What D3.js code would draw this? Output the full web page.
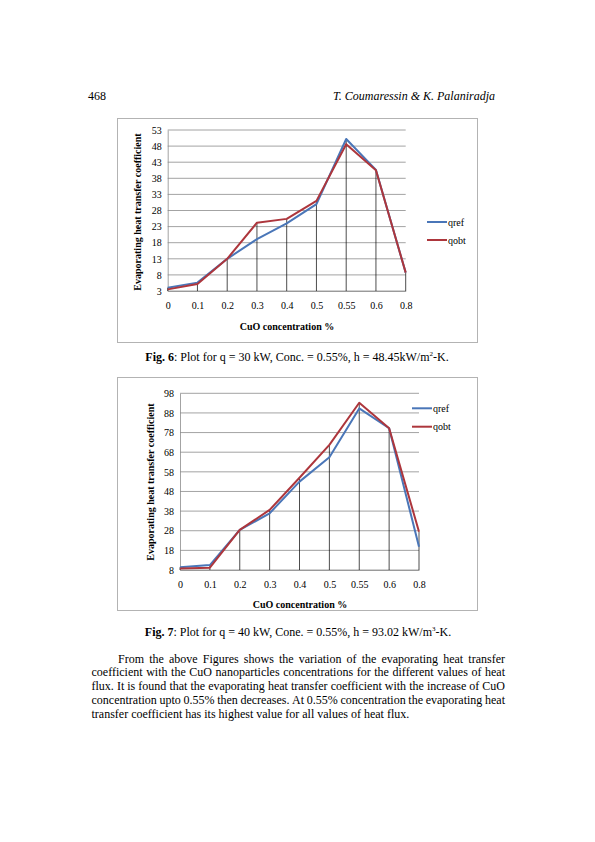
<!DOCTYPE html>
<html><head><meta charset="utf-8">
<script src="https://cdn.jsdelivr.net/npm/d3@7"></script>
<style>html,body{margin:0;padding:0;background:#fff}svg{display:block}</style>
</head><body>
<svg id="page" width="595" height="842"></svg>
<script>
const categories = ["0","0.1","0.2","0.3","0.4","0.5","0.55","0.6","0.8"];
const fig6Qref = [4.0, 5.6, 13.0, 19.1, 24.0, 30.0, 50.2, 40.6, 8.7];
const fig6Qobt = [3.5, 5.2, 13.0, 24.2, 25.4, 31.0, 48.6, 40.5, 8.7];
const fig6Ticks = [3,8,13,18,23,28,33,38,43,48,53];
const fig7Qref = [9.4, 10.5, 28.4, 36.9, 53.0, 65.4, 90.3, 80.2, 19.9];
const fig7Qobt = [8.8, 9.2, 28.4, 38.6, 55.0, 71.7, 93.2, 80.2, 27.5];
const fig7Ticks = [8,18,28,38,48,58,68,78,88,98];
const seriesNames = ["qref","qobt"];
const yTitle = "Evaporating heat transfer coefficient";
const xTitle = "CuO concentration %";

const svg = d3.select("#page");
const SERIF = "'Liberation Serif','Times New Roman',serif";
const COLORS = ["#4A76B8", "#AD363C"];
const CFS = 10;

// header
svg.append("text").attr("x",88).attr("y",100).attr("font-family",SERIF).attr("font-size",12).text("468");
svg.append("text").attr("x",495).attr("y",100).attr("text-anchor","end").attr("font-family",SERIF)
  .attr("font-size",12).attr("font-style","italic").text("T. Coumaressin & K. Palaniradja");

function chart(o){
  const g = svg.append("g");
  g.append("rect").attr("x",o.frame[0]+0.5).attr("y",o.frame[1]+0.5)
   .attr("width",o.frame[2]-o.frame[0]).attr("height",o.frame[3]-o.frame[1])
   .attr("fill","#fff").attr("stroke","#b3b3b3").attr("stroke-width",1);
  const x = d3.scalePoint().domain(categories).range([o.x0,o.x1]).padding(0);
  const y = d3.scaleLinear().domain([o.ticks[0], o.ticks[o.ticks.length-1]]).range([o.y0,o.y1]);
  // gridlines
  g.append("g").selectAll("line").data(o.ticks).join("line")
   .attr("x1",o.x0).attr("x2",o.x1).attr("y1",d=>y(d)).attr("y2",d=>y(d))
   .attr("stroke","#8c8c8c").attr("stroke-width",0.8);
  // axes via d3
  const ya = d3.axisLeft(y).tickValues(o.ticks).tickSize(0).tickPadding(6);
  const yg = g.append("g").attr("transform",`translate(${o.x0},0)`).call(ya);
  yg.select(".domain").attr("stroke","#8c8c8c").attr("stroke-width",0.8);
  yg.selectAll("text").attr("font-family",SERIF).attr("font-size",CFS).attr("fill","#000");
  const xa = d3.axisBottom(x).tickSize(0).tickPadding(11);
  const xg = g.append("g").attr("transform",`translate(0,${o.y0})`).call(xa);
  xg.select(".domain").attr("stroke","#8c8c8c").attr("stroke-width",0.8);
  xg.selectAll("text").attr("font-family",SERIF).attr("font-size",CFS).attr("fill","#000");
  // drop lines
  g.append("g").selectAll("line").data(categories).join("line")
   .attr("x1",d=>x(d)).attr("x2",d=>x(d))
   .attr("y1",(d,i)=>y(Math.max(o.a[i],o.b[i]))).attr("y2",o.y0)
   .attr("stroke","#000").attr("stroke-width",0.7);
  // series
  const line = d3.line().x((d,i)=>x(categories[i])).y(d=>y(d));
  [o.a,o.b].forEach((s,k)=>{
    g.append("path").datum(s).attr("d",line).attr("fill","none")
     .attr("stroke",COLORS[k]).attr("stroke-width",2).attr("stroke-linejoin","round");
  });
  // legend
  seriesNames.forEach((n,k)=>{
    const ly = o.leg[1] + k*o.leg[2];
    g.append("line").attr("x1",o.leg[0]).attr("x2",o.leg[0]+20).attr("y1",ly).attr("y2",ly)
     .attr("stroke",COLORS[k]).attr("stroke-width",2);
    g.append("text").attr("x",o.leg[0]+21).attr("y",ly+3.5).attr("font-family",SERIF)
     .attr("font-size",CFS).text(n);
  });
  // titles
  g.append("text").attr("transform",`translate(${o.yt[0]},${o.yt[1]}) rotate(-90)`)
   .attr("text-anchor","middle").attr("dominant-baseline","central").attr("font-family",SERIF)
   .attr("font-weight","bold").attr("font-size",CFS).text(yTitle);
  g.append("text").attr("x",o.xt[0]).attr("y",o.xt[1]).attr("text-anchor","middle")
   .attr("font-family",SERIF).attr("font-weight","bold").attr("font-size",CFS).text(xTitle);
}

chart({frame:[117,118,477,342], x0:167.7, x1:405.7, y0:291, y1:130, ticks:fig6Ticks,
  a:fig6Qref, b:fig6Qobt, leg:[427,222,18], yt:[137,212], xt:[287,329.5]});
chart({frame:[117,377,477,610], x0:180, x1:419, y0:570, y1:393.3, ticks:fig7Ticks,
  a:fig7Qref, b:fig7Qobt, leg:[412,408.3,18.4], yt:[150,482], xt:[300,607.5]});

function caption(cx, by, label, rest, sup, tail){
  const t = svg.append("text").attr("x",cx).attr("y",by).attr("text-anchor","middle")
    .attr("font-family",SERIF).attr("font-size",12);
  t.append("tspan").attr("font-weight","bold").text(label);
  t.append("tspan").text(rest);
  t.append("tspan").attr("font-size",7).attr("dy",-5).text(sup);
  t.append("tspan").attr("dy",5).text(tail);
}
caption(297, 361, "Fig. 6", ": Plot for q = 30 kW, Conc. = 0.55%, h = 48.45kW/m", "2", "-K.");
caption(298, 636, "Fig. 7", ": Plot for q = 40 kW, Cone. = 0.55%, h = 93.02 kW/m", "3", "-K.");

// paragraph (justified)
const para = [
 "From the above Figures shows the variation of the evaporating heat transfer",
 "coefficient with the CuO nanoparticles concentrations for the different values of heat",
 "flux. It is found that the evaporating heat transfer coefficient with the increase of CuO",
 "concentration upto 0.55% then decreases. At 0.55% concentration the evaporating heat",
 "transfer coefficient has its highest value for all values of heat flux."
];
const pl = 91.5, pr = 505, fs = 12;
para.forEach((ln,i)=>{
  const by = 662.7 + i*13.75;
  const start = i===0 ? 118 : pl;
  const words = ln.split(" ");
  const tmp = words.map(w=>svg.append("text").attr("font-family",SERIF).attr("font-size",fs).attr("y",by).text(w));
  const widths = tmp.map(t=>t.node().getComputedTextLength());
  const total = d3.sum(widths);
  const last = i===para.length-1;
  const gap = last ? fs*0.25 : (pr-start-total)/(words.length-1);
  let cx = start;
  tmp.forEach((t,j)=>{ t.attr("x",cx); cx += widths[j]+gap; });
});
</script>
</body></html>
